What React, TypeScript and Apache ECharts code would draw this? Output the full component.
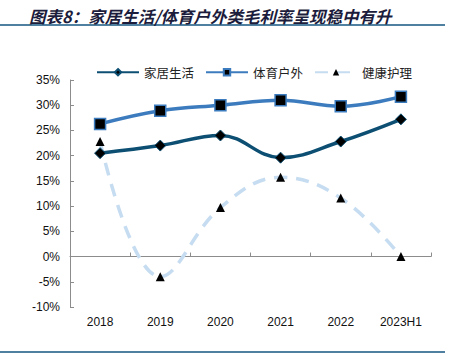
import React, { useEffect, useRef } from "react";
import * as echarts from "echarts";

const categories = ["2018", "2019", "2020", "2021", "2022", "2023H1"];
const homeLiving = [20.5, 22.0, 24.0, 19.6, 22.8, 27.2];
const sportsOutdoor = [26.3, 28.9, 30.0, 31.0, 29.8, 31.7];
const healthCare = [22.8, -4.0, 9.7, 15.7, 11.6, 0.0];
const seriesNames = ["家居生活", "体育户外", "健康护理"];

export default function App() {
  const ref = useRef<HTMLDivElement>(null);
  useEffect(() => {
    const chart = echarts.init(ref.current!, undefined, { renderer: "svg" });
    const font = "'Liberation Sans', Arial, 'Noto Sans CJK SC', sans-serif";
    chart.setOption({
      animation: false,
      backgroundColor: "#ffffff",
      textStyle: { fontFamily: font },
      title: {
        text: "图表8：家居生活/体育户外类毛利率呈现稳中有升",
        left: 24,
        top: 3,
        textStyle: {
          fontSize: 16.5,
          fontWeight: "bold",
          fontStyle: "italic",
          color: "#1c1c3c",
          fontFamily: "'Noto Sans CJK SC', sans-serif",
        },
      },
      graphic: [
        { type: "line", shape: { x1: 0, y1: 25, x2: 445, y2: 25 }, style: { stroke: "#50809f", lineWidth: 2 } },
        { type: "line", shape: { x1: 0, y1: 352, x2: 445, y2: 352 }, style: { stroke: "#50809f", lineWidth: 2 } },
      ],
      legend: {
        data: seriesNames,
        left: 91,
        top: 61,
        itemWidth: 42,
        itemHeight: 8,
        itemGap: 11,
        textStyle: { fontSize: 12.5, color: "#222", fontFamily: "'Noto Sans CJK SC', sans-serif" },
      },
      grid: { left: 70, right: 20, top: 80, bottom: 52 },
      xAxis: {
        type: "category",
        data: categories,
        boundaryGap: true,
        axisLine: { onZero: true, lineStyle: { color: "#8c8c8c", width: 1 } },
        axisTick: { show: true, inside: true, length: 4, lineStyle: { color: "#8c8c8c" } },
        axisLabel: { color: "#111", fontSize: 12, margin: 9 },
      },
      yAxis: {
        type: "value",
        min: -10,
        max: 35,
        interval: 5,
        axisLine: { show: true, lineStyle: { color: "#8c8c8c", width: 1 } },
        axisTick: { show: true, inside: true, length: 4, lineStyle: { color: "#8c8c8c" } },
        axisLabel: { formatter: "{value}%", color: "#111", fontSize: 12, margin: 10 },
        splitLine: { show: false },
      },
      series: [
        {
          name: seriesNames[0],
          type: "line",
          data: homeLiving,
          smooth: 0.4,
          symbol: "diamond",
          symbolSize: 11,
          lineStyle: { color: "#0c4f73", width: 3.5 },
          itemStyle: { color: "#000", borderColor: "#0c4f73", borderWidth: 1 },
          z: 3,
        },
        {
          name: seriesNames[1],
          type: "line",
          data: sportsOutdoor,
          smooth: 0.4,
          symbol: "rect",
          symbolSize: 11,
          lineStyle: { color: "#3c7cbe", width: 3.5 },
          itemStyle: { color: "#000", borderColor: "#3c7cbe", borderWidth: 1.5 },
          z: 3,
        },
        {
          name: seriesNames[2],
          type: "line",
          data: healthCare,
          smooth: 0.4,
          symbol: "triangle",
          symbolSize: 9,
          lineStyle: { color: "#c6dcf0", width: 3.5, type: [13, 9] },
          itemStyle: { color: "#000", borderColor: "#000", borderWidth: 0 },
          z: 2,
        },
      ],
    });
    return () => chart.dispose();
  }, []);
  return <div ref={ref} style={{ position: "fixed", left: 0, top: 0, width: 451, height: 359 }} />;
}
